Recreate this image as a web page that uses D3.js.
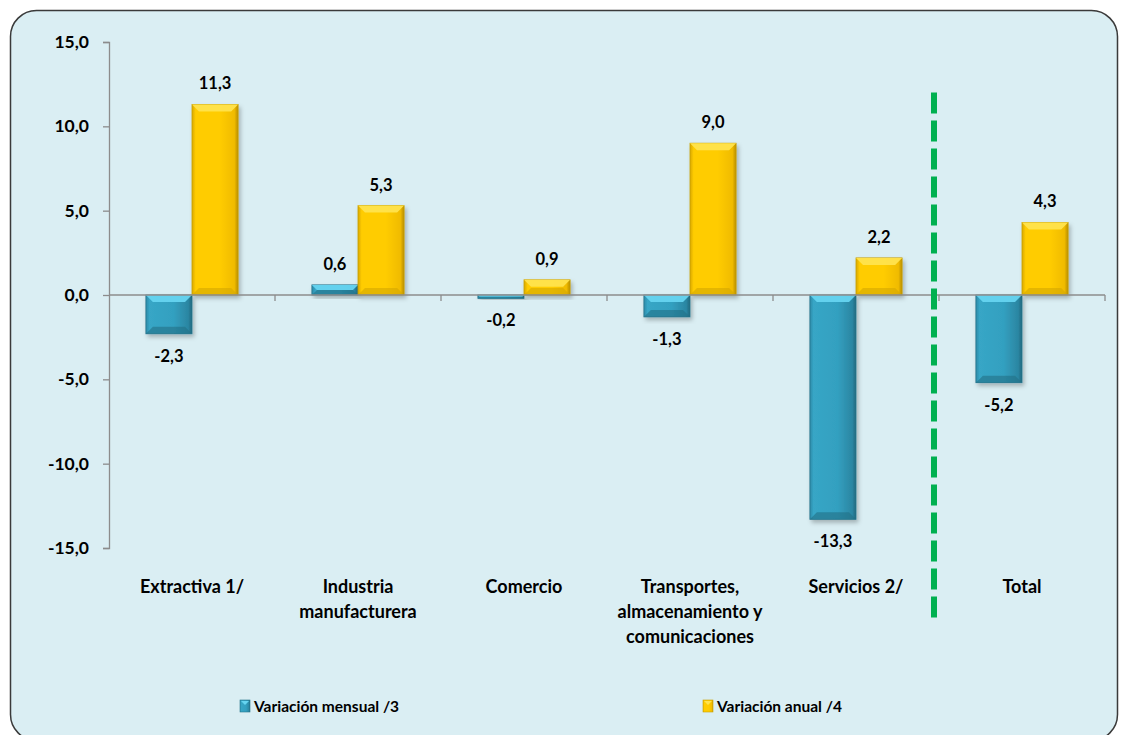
<!DOCTYPE html>
<html lang="es">
<head>
<meta charset="UTF-8">
<title>Variación mensual y anual</title>
<script src="https://cdn.jsdelivr.net/npm/d3@7"></script>
<style>
    body { margin: 0; background: #ffffff; }
    svg text { font-family: Lato, "Open Sans", sans-serif; font-weight: bold; fill: #000; }
    .tick-label { font-size: 17.5px; }
    .cat-label { font-size: 18px; }
    .val-label { font-size: 16.5px; }
    .legend-label { font-size: 15.5px; }
</style>
</head>
<body>
<svg id="chart" width="1121" height="735"></svg>
<script>
    // data
    const categories = ["Extractiva 1/", "Industria manufacturera", "Comercio",
        "Transportes, almacenamiento y comunicaciones", "Servicios 2/", "Total"];
    const categoryLines = [["Extractiva 1/"], ["Industria", "manufacturera"], ["Comercio"],
        ["Transportes,", "almacenamiento y", "comunicaciones"], ["Servicios 2/"], ["Total"]];
    const seriesNames = ["Variación mensual /3", "Variación anual  /4"];
    const mensual = [-2.3, 0.6, -0.2, -1.3, -13.3, -5.2];
    const anual = [11.3, 5.3, 0.9, 9.0, 2.2, 4.3];
    const yTicks = [-15, -10, -5, 0, 5, 10, 15];

    const fmt = v => v.toFixed(1).replace(".", ",");

    const svg = d3.select("#chart");
    const margin = { top: 42, right: 16, bottom: 187, left: 109 };
    const W = 1121, H = 735;

    // gradients for the bevelled bars
    const defs = svg.append("defs");
    function grad(id, stops) {
        const g = defs.append("linearGradient").attr("id", id)
            .attr("x1", 0).attr("x2", 1).attr("y1", 0).attr("y2", 0);
        stops.forEach(s => g.append("stop").attr("offset", s[0]).attr("stop-color", s[1]));
    }
    grad("gTeal", [[0, "#2a8aa8"], [0.08, "#37a6c6"], [0.6, "#33a0c0"], [0.92, "#2b86a2"], [1, "#22677d"]]);
    grad("gGold", [[0, "#d9a800"], [0.08, "#ffcc00"], [0.6, "#ffcc00"], [0.92, "#f0bb00"], [1, "#b88e00"]]);
    const f = defs.append("filter").attr("id", "shadow").attr("x", "-20%").attr("y", "-20%")
        .attr("width", "150%").attr("height", "150%");
    f.append("feDropShadow").attr("dx", 2).attr("dy", 3).attr("stdDeviation", 2)
        .attr("flood-color", "#000").attr("flood-opacity", 0.25);

    // panel
    svg.append("rect")
        .attr("x", 10.5).attr("y", 10.5)
        .attr("width", 1107).attr("height", 730)
        .attr("rx", 26).attr("ry", 26)
        .attr("fill", "#daeef3")
        .attr("stroke", "#3a3a3a").attr("stroke-width", 1.5);

    const y = d3.scaleLinear().domain([-15, 15]).range([H - margin.bottom, margin.top]);
    const x0 = d3.scaleBand().domain(categories).range([margin.left, W - margin.right]).padding(0);
    const x1 = d3.scaleBand().domain(seriesNames).range([0, x0.bandwidth()]).paddingInner(0).paddingOuter(0.8);

    // y axis
    const yAxis = svg.append("g")
        .attr("transform", `translate(${margin.left},0)`)
        .call(d3.axisLeft(y).tickValues(yTicks).tickFormat(fmt).tickSize(6).tickPadding(14));
    yAxis.select(".domain").attr("stroke", "#8c8c8c").attr("stroke-width", 1.3);
    yAxis.selectAll(".tick line").attr("stroke", "#8c8c8c").attr("stroke-width", 1.3);
    yAxis.selectAll(".tick text").attr("class", "tick-label").attr("fill", "#000");

    // bars
    const rows = categories.map((c, i) => ({ cat: c, lines: categoryLines[i],
        vals: [{ s: seriesNames[0], v: mensual[i] }, { s: seriesNames[1], v: anual[i] }] }));

    const groups = svg.selectAll(".cat").data(rows).enter().append("g")
        .attr("class", "cat")
        .attr("transform", d => `translate(${x0(d.cat)},0)`);

    groups.selectAll(".bar").data(d => d.vals).enter().each(function (d) {
        const g = d3.select(this).append("g").attr("filter", "url(#shadow)");
        const bx = x1(d.s), bw = x1.bandwidth();
        const top = y(Math.max(0, d.v)), bot = y(Math.min(0, d.v));
        const h = bot - top;
        const teal = d.s === seriesNames[0];
        g.append("rect").attr("x", bx).attr("y", top).attr("width", bw).attr("height", h)
            .attr("fill", teal ? "url(#gTeal)" : "url(#gGold)")
            .attr("stroke", teal ? "#25758d" : "#c9a000").attr("stroke-width", 0.8);
        // top bevel
        const bev = Math.min(7, h / 2);
        g.append("path")
            .attr("d", `M${bx},${top}L${bx + bw},${top}L${bx + bw - bev},${top + bev}L${bx + bev},${top + bev}Z`)
            .attr("fill", teal ? "#66d4f0" : "#ffe34d").attr("opacity", 0.95);
        // bottom shade
        g.append("path")
            .attr("d", `M${bx},${bot}L${bx + bw},${bot}L${bx + bw - bev},${bot - bev}L${bx + bev},${bot - bev}Z`)
            .attr("fill", teal ? "#236f86" : "#d4a600").attr("opacity", 0.6);
    });

    // value labels
    groups.selectAll(".val-label").data(d => d.vals).enter().append("text")
        .attr("class", "val-label")
        .attr("text-anchor", "middle")
        .attr("x", d => x1(d.s) + x1.bandwidth() / 2)
        .attr("y", d => d.v >= 0 ? y(d.v) - 15 : y(d.v) + 28)
        .text(d => fmt(d.v));

    // x axis line with ticks at category boundaries
    const xa = svg.append("g");
    xa.append("line").attr("x1", margin.left).attr("x2", W - margin.right)
        .attr("y1", y(0)).attr("y2", y(0)).attr("stroke", "#8c8c8c").attr("stroke-width", 1.3);
    xa.selectAll(".xt").data(categories).enter().append("line")
        .attr("x1", d => x0(d) + x0.bandwidth()).attr("x2", d => x0(d) + x0.bandwidth())
        .attr("y1", y(0)).attr("y2", y(0) + 6)
        .attr("stroke", "#8c8c8c").attr("stroke-width", 1.3);

    // category labels
    groups.each(function (d) {
        const t = d3.select(this).append("text").attr("class", "cat-label")
            .attr("text-anchor", "middle").attr("x", x0.bandwidth() / 2).attr("y", y(-15) + 45);
        d.lines.forEach((l, i) => t.append("tspan").attr("x", x0.bandwidth() / 2)
            .attr("dy", i === 0 ? 0 : 25).text(l));
    });

    // dashed separator before Total
    svg.append("line")
        .attr("x1", x0("Total") - 5).attr("x2", x0("Total") - 5)
        .attr("y1", y(12)).attr("y2", y(-15) + 70)
        .attr("stroke", "#00b050").attr("stroke-width", 6)
        .attr("stroke-dasharray", "21,7");

    // legend
    const legend = svg.append("g").attr("transform", "translate(0,712)");
    const legX = [240, 703];
    seriesNames.forEach((s, i) => {
        const lg = legend.append("g").attr("transform", `translate(${legX[i]},0)`);
        lg.append("rect").attr("x", 0).attr("y", -12).attr("width", 10).attr("height", 12)
            .attr("fill", i === 0 ? "url(#gTeal)" : "url(#gGold)")
            .attr("stroke", i === 0 ? "#25758d" : "#c9a000").attr("stroke-width", 0.6);
        lg.append("path").attr("d", "M1,-11L9,-11L5,-7Z").attr("fill", i === 0 ? "#66d4f0" : "#ffe34d");
        lg.append("text").attr("class", "legend-label").attr("x", 14).attr("y", 0).text(s);
    });
</script>
</body>
</html>
